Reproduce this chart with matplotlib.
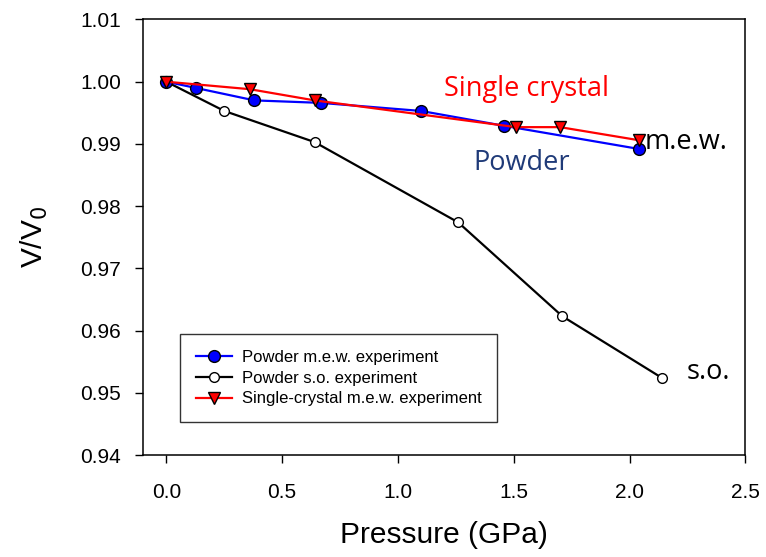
import matplotlib
matplotlib.use("Agg")
import matplotlib.pyplot as plt

# powder, m.e.w. pressure medium
p_mew = [0.0, 0.127, 0.38, 0.667, 1.10, 1.46, 2.04]
v_mew = [1.0000, 0.9990, 0.9970, 0.9966, 0.9953, 0.9929, 0.9892]
# powder, silicone oil
p_so = [0.0, 0.25, 0.64, 1.26, 1.71, 2.14]
v_so = [1.0000, 0.9953, 0.9903, 0.9774, 0.9623, 0.9524]
# single crystal, m.e.w.
p_sc = [0.0, 0.36, 0.64, 1.51, 1.70, 2.04]
v_sc = [1.0000, 0.9988, 0.9970, 0.9927, 0.9927, 0.9906]

xticks = [0.0, 0.5, 1.0, 1.5, 2.0, 2.5]
yticks = [0.94, 0.95, 0.96, 0.97, 0.98, 0.99, 1.00, 1.01]

plt.rcParams["font.family"] = ["Liberation Sans", "DejaVu Sans"]

fig = plt.figure(figsize=(7.66, 5.57), dpi=100)
ax = fig.add_axes([0.187, 0.183, 0.786, 0.782])

ax.plot(p_so, v_so, color="black", lw=1.6, marker="o", ms=7, mfc="white",
        mec="black", mew=1.0, label="Powder s.o. experiment", zorder=3)
ax.plot(p_mew, v_mew, color="#0000ff", lw=1.6, marker="o", ms=8.5, mfc="#0000ff",
        mec="black", mew=1.0, label="Powder m.e.w. experiment", zorder=4)
ax.plot(p_sc, v_sc, color="#ff0000", lw=1.6, marker="v", ms=8, mfc="#ff0000",
        mec="black", mew=1.0, label="Single-crystal m.e.w. experiment", zorder=5)

ax.set_xlim(-0.1, 2.5)
ax.set_ylim(0.94, 1.01)
ax.set_xticks(xticks)
ax.set_yticks(yticks)
ax.set_xticklabels([f"{t:.1f}" for t in xticks])
ax.set_yticklabels([f"{t:.2f}" for t in yticks])
ax.tick_params(direction="out", length=6, width=1, labelsize=15, pad=10)
ax.tick_params(axis="x", pad=14)
for s in ax.spines.values():
    s.set_linewidth(1.1)

ax.set_xlabel("Pressure (GPa)", fontsize=21.5, labelpad=14)
ax.set_ylabel("V/V$_0$", fontsize=21.5, labelpad=22)

ann = ["Open Sans", "DejaVu Sans"]
ax.text(1.556, 0.9988, "Single crystal", color="#ff0000", fontsize=19.5, family=ann,
        ha="center", va="center")
ax.text(1.536, 0.9870, "Powder", color="#1f3a78", fontsize=19.5, family=ann,
        ha="center", va="center")
ax.text(2.065, 0.9903, "m.e.w.", color="black", fontsize=19.5, family=ann,
        ha="left", va="center")
ax.text(2.245, 0.9533, "s.o.", color="black", fontsize=19.5, family=ann,
        ha="left", va="center")

handles, labels = ax.get_legend_handles_labels()
order = [1, 0, 2]
leg = ax.legend([handles[i] for i in order], [labels[i] for i in order],
                loc="upper left", bbox_to_anchor=(0.061, 0.278), borderaxespad=0,
                fontsize=12, frameon=True, fancybox=False, edgecolor="black",
                handlelength=2.2, handletextpad=0.55, labelspacing=0.35,
                borderpad=0.95)
leg.get_frame().set_linewidth(1.0)

fig.savefig("out.png", dpi=100)
